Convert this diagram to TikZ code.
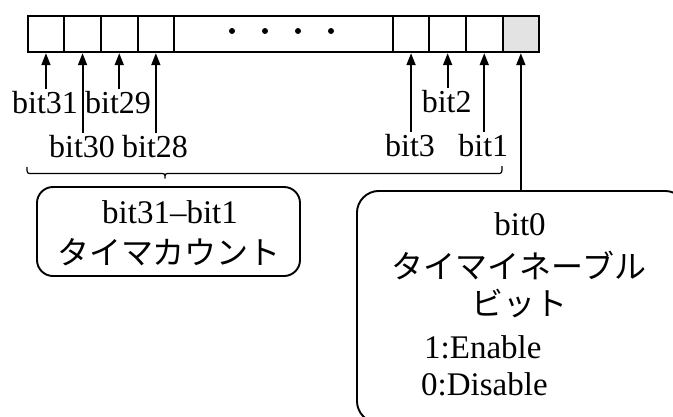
\documentclass[tikz,border=0pt]{standalone}
\usepackage{fontspec}
\setmainfont{Liberation Serif}
\newfontfamily\jp{Noto Sans CJK JP}
\usetikzlibrary{arrows.meta}
\definecolor{cellgray}{HTML}{E3E3E3}
\begin{document}
\begin{tikzpicture}[x=1pt,y=-1pt,
  cell/.style={draw,line width=1.9pt,minimum width=36.6pt,minimum height=36.6pt,inner sep=0pt,anchor=north west},
  lbl/.style={font=\fontsize{32}{36}\selectfont,inner sep=1.5pt,anchor=base},
  btxt/.style={font=\fontsize{33}{38}\selectfont,inner sep=0pt,anchor=base},
  jtxt/.style={font=\jp\fontsize{32}{38}\selectfont,inner sep=0pt,anchor=base},
  arr/.style={line width=1.9pt,-{Triangle[length=12pt,width=9pt]}},
  rbox/.style={draw,line width=1.9pt,rounded corners=22pt,inner sep=0pt}]
\useasboundingbox (0,0) rectangle (673,416);
\begin{scope}
\clip (0,0) rectangle (673,416);
% register cells
\node[cell] (c31) at (26.7,14.7) {};
\node[cell] (c30) at (63.3,14.7) {};
\node[cell] (c29) at (100,14.7) {};
\node[cell] (c28) at (136.6,14.7) {};
\node[cell,minimum width=219pt] (cmid) at (173.2,14.7) {};
\node[cell] (c3) at (391.8,14.7) {};
\node[cell] (c2) at (428.4,14.7) {};
\node[cell] (c1) at (465,14.7) {};
\node[cell,fill=cellgray] (c0) at (501.6,14.7) {};
\foreach \x in {232,265,298,331} \fill (\x,31) circle (3pt);
% labels
\node[lbl] (l31) at (45,113) {bit31};
\node[lbl] (l30) at (82,157) {bit30};
\node[lbl] (l29) at (118,113) {bit29};
\node[lbl] (l28) at (155,157) {bit28};
\node[lbl] (l2) at (446.7,112) {bit2};
\node[lbl] (l3) at (410,156) {bit3};
\node[lbl] (l1) at (483.3,156) {bit1};
\draw[arr] (l31.north -| c31.south) -- (c31.south);
\draw[arr] (l30.north -| c30.south) -- (c30.south);
\draw[arr] (l29.north -| c29.south) -- (c29.south);
\draw[arr] (l28.north -| c28.south) -- (c28.south);
\draw[arr] (l3.north -| c3.south) -- (c3.south);
\draw[arr] (l2.north -| c2.south) -- (c2.south);
\draw[arr] (l1.north -| c1.south) -- (c1.south);
% brace
\coordinate (bl) at (27,167);
\coordinate (br) at (502,166);
\coordinate (bt) at (165,178.5);
\draw[line width=1.2pt] (bl) .. controls (27,173.5) .. (32,173.5) -- (160,173.5)
  .. controls (165,173.5) .. (bt) .. controls (165,173.5) .. (170,173.5)
  -- (497,173.5) .. controls (502,173.5) .. (br);
% box 1
\node[rbox,minimum width=263pt,minimum height=89pt,rounded corners=16pt] (box1) at (168.5,231.5) {};
\node[btxt] (t1a) at (170,223) {bit31\textendash bit1};
\node[jtxt] (t1b) at (169,264) {タイマカウント};
% box 2
\node[rbox,minimum width=330pt,minimum height=232pt,anchor=north west] (box2) at (356,190) {};
\node[btxt] (t2a) at (520,235) {bit0};
\node[jtxt] (t2b) at (519,278) {タイマイネーブル};
\node[jtxt] (t2c) at (519,315) {ビット};
\node[btxt,anchor=base west] (t2d) at (424,358) {1:Enable};
\node[btxt,anchor=base west] (t2e) at (421,395) {0:Disable};
\draw[arr] (box2.north -| c0.south) -- (c0.south);
\end{scope}
\end{tikzpicture}
\end{document}
